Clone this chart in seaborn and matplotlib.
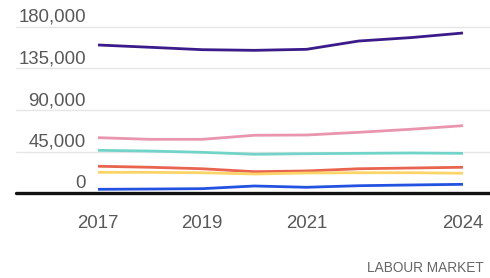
import matplotlib
matplotlib.use("Agg")
import matplotlib.pyplot as plt
import matplotlib.transforms as mtransforms
import seaborn as sns
import pandas as pd

years = [2017, 2018, 2019, 2020, 2021, 2022, 2023, 2024]
series_names = ["Purple", "Pink", "Teal", "Red", "Yellow", "Blue"]
purple = [160500, 158000, 155400, 154700, 155800, 164800, 168500, 173500]
pink = [60000, 58200, 58200, 62600, 62900, 65800, 69100, 73000]
teal = [46300, 45500, 44100, 42000, 42600, 43000, 43400, 43000]
red = [29000, 27900, 26300, 23100, 23900, 26300, 27100, 27900]
yellow = [22400, 22400, 22000, 20600, 21700, 22000, 22000, 21400]
blue = [4000, 4300, 4700, 7600, 6200, 7900, 8700, 9400]
colors = ["#3b1a8a", "#e995ad", "#72d4c8", "#e8644f", "#fcd467", "#2452e0"]
ytick_values = [0, 45000, 90000, 135000, 180000]
ytick_labels = ["0", "45,000", "90,000", "135,000", "180,000"]
xtick_values = [2017, 2019, 2021, 2024]
xtick_labels = ["2017", "2019", "2021", "2024"]
source_text = "LABOUR MARKET"

all_vals = [purple, pink, teal, red, yellow, blue]
rows = []
for name, vals in zip(series_names, all_vals):
    for y, v in zip(years, vals):
        rows.append({"year": y, "value": v, "series": name})
df = pd.DataFrame(rows)

sns.set_theme(style="white")
plt.rcParams["font.family"] = ["Liberation Sans", "DejaVu Sans"]

fig = plt.figure(figsize=(4.9, 2.78), dpi=100)
ax = fig.add_axes([16 / 490, (278 - 193) / 278, 1 - 16 / 490, 193 / 278])

sns.lineplot(data=df, x="year", y="value", hue="series", hue_order=series_names,
             palette=colors, linewidth=2.0, ax=ax, legend=False,
             solid_capstyle="butt")

ax.set_xlim(2017 - 82 / 52.14, 2017 + 392 / 52.14)
ax.set_ylim(0, 193 / 41.5 * 45000)

for v in ytick_values[1:]:
    ax.axhline(v, color="#e6e6e6", linewidth=1.0, zorder=0)
ax.axhline(0, color="#111111", linewidth=2.4, zorder=5, clip_on=False)

for s in ax.spines.values():
    s.set_visible(False)
ax.set_xticks([])
ax.set_yticks([])
ax.set_xlabel("")
ax.set_ylabel("")

off_up = mtransforms.ScaledTranslation(0, 5 / 100, fig.dpi_scale_trans)
for v, lab in zip(ytick_values, ytick_labels):
    ax.text((86 - 16) / 474, v, lab,
            transform=ax.get_yaxis_transform() + off_up,
            ha="right", va="baseline", fontsize=13.4, color="#585858")

off_down = mtransforms.ScaledTranslation(0, -30 / 100, fig.dpi_scale_trans)
for x, lab in zip(xtick_values, xtick_labels):
    ax.text(x, 0, lab, transform=ax.get_xaxis_transform() + off_down,
            ha="center", va="center", fontsize=13.4, color="#585858")

fig.text(484 / 490, 1 - 268 / 278, source_text, ha="right", va="center",
         fontsize=9.8, color="#666666")

fig.savefig("out.png", dpi=100)
